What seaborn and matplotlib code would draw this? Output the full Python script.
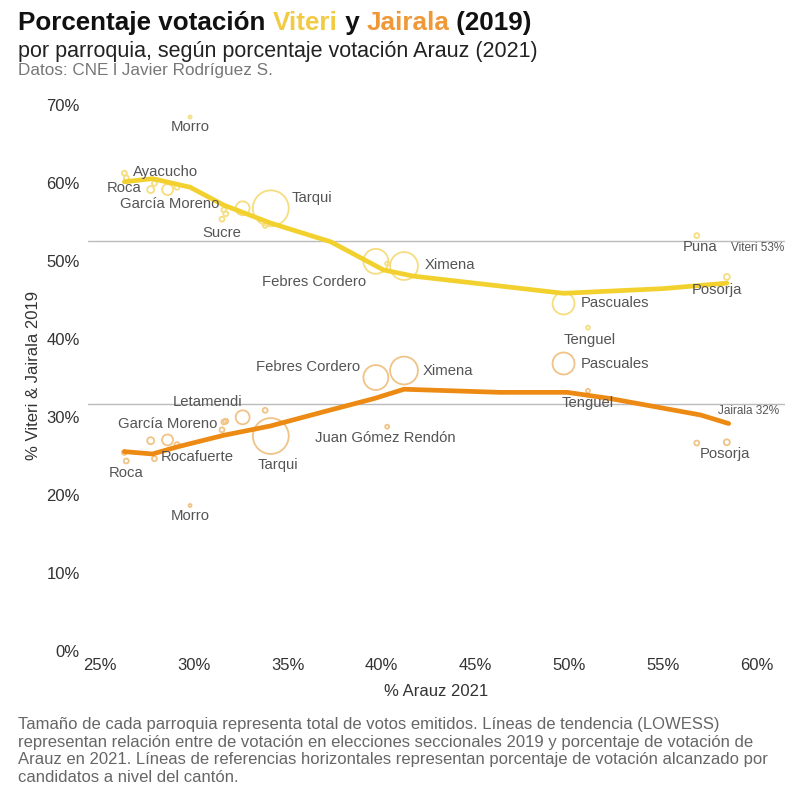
import matplotlib
matplotlib.use("Agg")

import numpy as np
import pandas as pd
import matplotlib.pyplot as plt
from matplotlib.ticker import PercentFormatter
import seaborn as sns

# ==============================
# DATA
# ==============================
parroquias = ["Ayacucho", "Roca", "Bolívar", "Rocafuerte", "Nueve de Octubre", "Carbo",
              "Morro", "Sucre", "Olmedo", "García Moreno", "Letamendi", "Urdaneta",
              "Tarqui", "Febres Cordero", "Juan Gómez Rendón", "Ximena", "Pascuales",
              "Tenguel", "Puná", "Posorja"]
arauz = [26.3, 26.4, 27.7, 27.9, 28.6, 29.1, 29.8, 31.5, 31.6, 31.7,
         32.6, 33.8, 34.1, 39.7, 40.3, 41.2, 49.7, 51.0, 56.8, 58.4]
viteri = [61.3, 60.7, 59.2, 60.0, 59.2, 59.5, 68.5, 55.4, 56.6, 56.1,
          56.8, 54.6, 56.8, 50.0, 49.7, 49.4, 44.6, 41.5, 53.3, 48.0]
jairala = [25.5, 24.4, 27.0, 24.7, 27.1, 26.5, 18.7, 28.4, 29.4, 29.5,
           30.0, 30.9, 27.6, 35.1, 28.8, 36.0, 36.9, 33.4, 26.7, 26.8]
votos = [11, 11, 22, 11, 54, 11, 4, 11, 11, 11,
         88, 11, 580, 280, 7, 350, 218, 7, 11, 16]  # miles de votos

# LOWESS trend lines (as drawn)
trend_v_x = [26.3, 27.8, 29.8, 31.6, 34.1, 37.3, 40.1, 41.7, 49.7, 55.0, 58.4]
trend_v_y = [60.2, 60.6, 59.5, 57.2, 54.9, 52.5, 48.9, 48.1, 45.9, 46.5, 47.2]
trend_j_x = [26.3, 27.8, 29.1, 31.6, 34.1, 36.9, 39.6, 41.2, 46.3, 49.9, 52.2, 57.0, 58.5]
trend_j_y = [25.6, 25.3, 26.2, 27.7, 28.9, 30.7, 32.4, 33.6, 33.2, 33.2, 32.4, 30.3, 29.2]

# canton level
viteri_canton = 52.6
jairala_canton = 31.7

# point labels: (text, x, y, ha)
labels_v = [("Morro", 29.8, 67.2, "center"), ("Ayacucho", 26.76, 61.4, "left"),
            ("Roca", 26.3, 59.4, "center"), ("García Moreno", 28.7, 57.3, "center"),
            ("Sucre", 31.5, 53.6, "center"), ("Tarqui", 35.2, 58.1, "left"),
            ("Febres Cordero", 36.4, 47.3, "center"), ("Ximena", 42.3, 49.5, "left"),
            ("Pascuales", 50.6, 44.6, "left"), ("Tenguel", 51.1, 39.9, "center"),
            ("Puna", 57.0, 51.8, "center"), ("Posorja", 57.9, 46.3, "center")]
labels_j = [("Febres Cordero", 36.1, 36.4, "center"), ("Ximena", 42.2, 35.9, "left"),
            ("Letamendi", 30.75, 31.9, "center"), ("García Moreno", 28.6, 29.2, "center"),
            ("Rocafuerte", 28.25, 24.9, "left"), ("Roca", 26.4, 22.8, "center"),
            ("Tarqui", 34.5, 23.9, "center"), ("Juan Gómez Rendón", 40.2, 27.3, "center"),
            ("Morro", 29.8, 17.4, "center"), ("Pascuales", 50.6, 36.9, "left"),
            ("Tenguel", 51.0, 31.8, "center"), ("Posorja", 58.3, 25.3, "center")]

YELLOW = "#F2D12E"
YELLOW_LIGHT = "#F5DD80"
ORANGE = "#EC8A14"
ORANGE_LIGHT = "#F0C387"
TEXT = "#555555"

df = pd.DataFrame({"parroquia": parroquias, "arauz": arauz, "viteri": viteri,
                   "jairala": jairala, "votos": votos})

# ==============================
# PLOT
# ==============================
sns.set_theme(style="white")
plt.rcParams["font.family"] = ["Liberation Sans", "DejaVu Sans"]

fig = plt.figure(figsize=(8, 8), dpi=100)
ax = fig.add_axes([0.11, 0.181, 0.871, 0.70])

ax.axhline(viteri_canton, color="#bbbbbb", lw=1, zorder=1)
ax.axhline(jairala_canton, color="#bbbbbb", lw=1, zorder=1)

vmax = max(votos)
for col, edge in [("viteri", YELLOW_LIGHT), ("jairala", ORANGE_LIGHT)]:
    sns.scatterplot(data=df, x="arauz", y=col, size="votos", sizes=(0, 1.15 * vmax),
                    size_norm=(0, vmax), facecolors="none", edgecolor=edge,
                    linewidth=1.3, legend=False, ax=ax, zorder=2)

sns.lineplot(x=trend_v_x, y=trend_v_y, color=YELLOW, lw=3.4, ax=ax, zorder=3)
sns.lineplot(x=trend_j_x, y=trend_j_y, color=ORANGE, lw=3.4, ax=ax, zorder=3)

for txt, x, y, ha in labels_v + labels_j:
    ax.text(x, y, txt, ha=ha, va="center", fontsize=10.7, color=TEXT, zorder=4)

ax.text(61.45, viteri_canton - 0.85, "Viteri 53%", ha="right", va="center",
        fontsize=8.5, color=TEXT)
ax.text(61.2, jairala_canton - 0.85, "Jairala 32%", ha="right", va="center",
        fontsize=8.5, color=TEXT)

ax.set_xlim(24.36, 61.49)
ax.set_ylim(-0.5, 71.3)
ax.set_xticks(np.arange(25, 61, 5))
ax.set_yticks(np.arange(0, 71, 10))
ax.xaxis.set_major_formatter(PercentFormatter(decimals=0))
ax.yaxis.set_major_formatter(PercentFormatter(decimals=0))
ax.tick_params(axis="y", labelsize=12, labelcolor="#333333", length=3,
               color="#dddddd", pad=3)
ax.tick_params(axis="x", labelsize=12, labelcolor="#333333", length=0, pad=2)
sns.despine(ax=ax, left=True, bottom=True)
ax.set_xlabel("% Arauz 2021", fontsize=12, color="#333333", labelpad=8)
ax.set_ylabel("% Viteri & Jairala 2019", fontsize=12, color="#333333", labelpad=4)
ax.grid(False)

# ==============================
# TITLES
# ==============================
renderer = fig.canvas.get_renderer()
x0 = 18 / 800
for part, c in [("Porcentaje votación ", "#111111"), ("Viteri", "#F2CB45"),
                (" y ", "#111111"), ("Jairala", "#EE9838"), (" (2019)", "#111111")]:
    t = fig.text(x0, 1 - 23 / 800, part, color=c, fontsize=18.7, fontweight="bold",
                 va="center", ha="left")
    x0 += t.get_window_extent(renderer).width / fig.bbox.width

fig.text(18 / 800, 1 - 51 / 800, "por parroquia, según porcentaje votación Arauz (2021)",
         fontsize=15.5, color="#222222", va="center")
fig.text(18 / 800, 1 - 71 / 800, "Datos: CNE l Javier Rodríguez S.",
         fontsize=12.3, color="#777777", va="center")

caption = ("Tamaño de cada parroquia representa total de votos emitidos. Líneas de tendencia (LOWESS)\n"
           "representan relación entre de votación en elecciones seccionales 2019 y porcentaje de votación de\n"
           "Arauz en 2021. Líneas de referencias horizontales representan porcentaje de votación alcanzado por\n"
           "candidatos a nivel del cantón.")
fig.text(18 / 800, 1 - 717 / 800, caption, fontsize=12, color="#666666", va="top",
         linespacing=1.22)

fig.savefig("out.png", dpi=100)
